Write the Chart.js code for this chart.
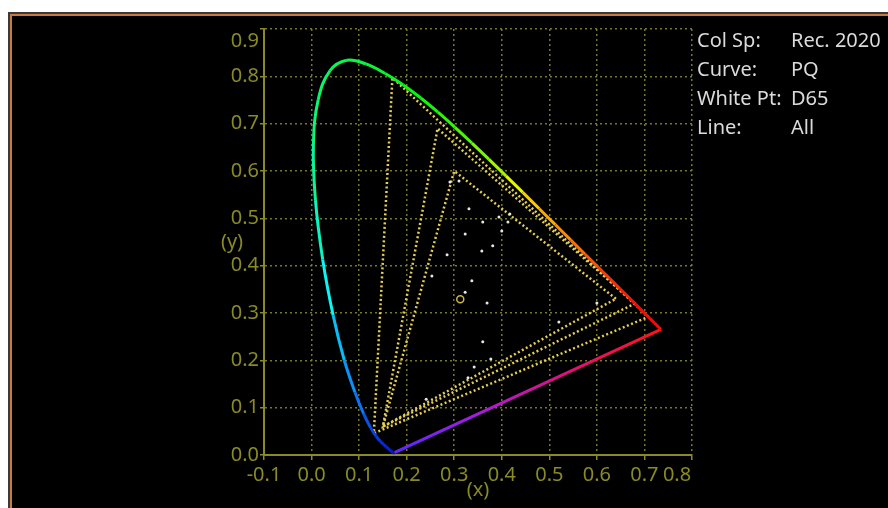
<!DOCTYPE html>
<html>
<head>
<meta charset="utf-8">
<script src="https://cdn.jsdelivr.net/npm/chart.js@4.4.0/dist/chart.umd.min.js"></script>
<style>
  html, body { margin: 0; padding: 0; background: #fff; width: 888px; height: 508px; overflow: hidden; }
  #frame { position: absolute; left: 8px; top: 12px; width: 900px; height: 520px; background: #000;
           border: 2px solid #3a3a3a; box-shadow: inset 0 0 0 2px #c97a3e; }
  #chart { position: absolute; left: 0; top: 0; }
</style>
</head>
<body>
<div id="frame"></div>
<canvas id="chart" width="888" height="508"></canvas>
<script>
// CIE 1931 spectral locus (chromaticity x, y per wavelength)
const wavelengths = [380, 385, 390, 395, 400, 405, 410, 415, 420, 425, 430, 435, 440, 445, 450, 455,
    460, 465, 470, 475, 480, 485, 490, 495, 500, 505, 510, 515, 520, 525, 530, 535, 540, 545, 550,
    555, 560, 565, 570, 575, 580, 585, 590, 595, 600, 605, 610, 615, 620, 625, 630, 635, 640, 645,
    650, 655, 660, 665, 670, 675, 680, 690, 700];
const locusX = [0.1741, 0.1740, 0.1738, 0.1736, 0.1733, 0.1730, 0.1726, 0.1721, 0.1714, 0.1703,
    0.1689, 0.1669, 0.1644, 0.1611, 0.1566, 0.1510, 0.1440, 0.1355, 0.1241, 0.1096, 0.0913, 0.0687,
    0.0454, 0.0235, 0.0082, 0.0039, 0.0139, 0.0389, 0.0743, 0.1142, 0.1547, 0.1929, 0.2296, 0.2658,
    0.3016, 0.3373, 0.3731, 0.4087, 0.4441, 0.4788, 0.5125, 0.5448, 0.5752, 0.6029, 0.6270, 0.6482,
    0.6658, 0.6801, 0.6915, 0.7006, 0.7079, 0.7140, 0.7190, 0.7230, 0.7260, 0.7283, 0.7300, 0.7311,
    0.7320, 0.7327, 0.7334, 0.7344, 0.7347];
const locusY = [0.0050, 0.0050, 0.0049, 0.0049, 0.0048, 0.0048, 0.0048, 0.0048, 0.0051, 0.0058,
    0.0069, 0.0086, 0.0109, 0.0138, 0.0177, 0.0227, 0.0297, 0.0399, 0.0578, 0.0868, 0.1327, 0.2007,
    0.2950, 0.4127, 0.5384, 0.6548, 0.7502, 0.8120, 0.8338, 0.8262, 0.8059, 0.7816, 0.7543, 0.7243,
    0.6923, 0.6589, 0.6245, 0.5896, 0.5547, 0.5202, 0.4866, 0.4544, 0.4242, 0.3965, 0.3725, 0.3514,
    0.3340, 0.3197, 0.3083, 0.2993, 0.2920, 0.2859, 0.2809, 0.2770, 0.2740, 0.2717, 0.2700, 0.2689,
    0.2680, 0.2673, 0.2666, 0.2656, 0.2653];

// gamut triangles (R, G, B, R)
const rec2020X = [0.708, 0.170, 0.131, 0.708];
const rec2020Y = [0.292, 0.797, 0.046, 0.292];
const p3X = [0.680, 0.265, 0.150, 0.680];
const p3Y = [0.320, 0.690, 0.060, 0.320];
const rec709X = [0.640, 0.300, 0.150, 0.640];
const rec709Y = [0.330, 0.600, 0.060, 0.330];
const whitePoint = [0.3127, 0.3290];

// measured samples
const sampleX = [0.291, 0.310, 0.331, 0.360, 0.394, 0.413, 0.417, 0.400, 0.323, 0.381, 0.358, 0.285,
    0.253, 0.337, 0.323, 0.369, 0.360, 0.377, 0.342, 0.329, 0.241, 0.520, 0.600];
const sampleY = [0.577, 0.579, 0.520, 0.492, 0.503, 0.492, 0.509, 0.473, 0.467, 0.442, 0.431, 0.423,
    0.378, 0.368, 0.344, 0.321, 0.239, 0.203, 0.186, 0.163, 0.118, 0.281, 0.321];

const xTickValues = [-0.1, 0.0, 0.1, 0.2, 0.3, 0.4, 0.5, 0.6, 0.7, 0.8];
const xTickLabels = ['-0.1', '0.0', '0.1', '0.2', '0.3', '0.4', '0.5', '0.6', '0.7', '0.8'];
const yTickValues = [0.0, 0.1, 0.2, 0.3, 0.4, 0.5, 0.6, 0.7, 0.8, 0.9];
const yTickLabels = ['0.0', '0.1', '0.2', '0.3', '0.4', '0.5', '0.6', '0.7', '0.8', '0.9'];

const infoLabels = ['Col Sp:', 'Curve:', 'White Pt:', 'Line:'];
const infoValues = ['Rec. 2020', 'PQ', 'D65', 'All'];

const OLIVE = '#8a8a26';
const GRID = 'rgba(125,125,45,0.95)';
const DOTS = '#e4cf52';
const FONT = { family: "'Noto Sans', sans-serif", size: 20 };

// hue stops along the locus
const hueStops = [[380, 235], [455, 232], [470, 222], [480, 210], [487, 196], [493, 178],
    [500, 160], [510, 145], [530, 130], [550, 108], [562, 82], [572, 50], [582, 34], [596, 14], [615, 0], [700, 0]];
function hueFor(nm) {
    for (let i = 1; i < hueStops.length; i++) {
        const [w1, h1] = hueStops[i];
        const [w0, h0] = hueStops[i - 1];
        if (nm <= w1) return h0 + (h1 - h0) * (nm - w0) / (w1 - w0);
    }
    return 0;
}
function locusColor(ctx) {
    const nm = (wavelengths[ctx.p0DataIndex] + wavelengths[ctx.p1DataIndex]) / 2;
    const h = hueFor(nm);
    const l = h > 215 ? 46 : 50;
    return `hsl(${h}, 92%, ${l}%)`;
}

function points(xs, ys) {
    return xs.map((x, i) => ({ x: x, y: ys[i] }));
}

const last = locusX.length - 1;

function purpleGradient(context) {
    const chart = context.chart;
    if (!chart.chartArea) return '#c020c0';
    const xs = chart.scales.x, ys = chart.scales.y;
    const g = chart.ctx.createLinearGradient(
        xs.getPixelForValue(locusX[last]), ys.getPixelForValue(locusY[last]),
        xs.getPixelForValue(locusX[0]), ys.getPixelForValue(locusY[0]));
    g.addColorStop(0, '#ff1418');
    g.addColorStop(0.35, '#e0107a');
    g.addColorStop(0.7, '#a51ce0');
    g.addColorStop(1, '#5a28ff');
    return g;
}

function triangle(xs, ys) {
    return {
        data: points(xs, ys),
        showLine: true,
        borderColor: DOTS,
        borderWidth: 2.5,
        borderDash: [2, 2.5],
        pointRadius: 0,
        tension: 0
    };
}

// text: axis title for y and the info block at top right
const textPlugin = {
    id: 'texts',
    afterDraw(chart) {
        const ctx = chart.ctx;
        const ys = chart.scales.y;
        ctx.save();
        ctx.font = `${FONT.size}px ${FONT.family}`;
        ctx.fillStyle = OLIVE;
        ctx.textAlign = 'center';
        ctx.textBaseline = 'middle';
        ctx.fillText('(y)', chart.chartArea.left - 32, ys.getPixelForValue(0.45));

        ctx.fillStyle = '#dadada';
        ctx.textAlign = 'left';
        ctx.textBaseline = 'alphabetic';
        infoLabels.forEach((lab, i) => {
            const y = 47 + i * 28.9;
            ctx.fillText(lab, 697, y);
            ctx.fillText(infoValues[i], 791, y);
        });
        ctx.restore();
    }
};

new Chart(document.getElementById('chart'), {
    type: 'scatter',
    data: {
        datasets: [
            {
                data: points(locusX, locusY),
                showLine: true,
                borderWidth: 3,
                pointRadius: 0,
                tension: 0.4,
                segment: { borderColor: locusColor }
            },
            {
                data: [{ x: locusX[last], y: locusY[last] }, { x: locusX[0], y: locusY[0] }],
                showLine: true,
                borderWidth: 3,
                borderColor: purpleGradient,
                pointRadius: 0
            },
            {
                data: [{ x: whitePoint[0], y: whitePoint[1] }],
                pointRadius: 3.5,
                borderColor: '#cdb844',
                borderWidth: 1.5,
                backgroundColor: 'rgba(0,0,0,0)'
            },
            {
                data: points(sampleX, sampleY),
                pointRadius: 1.5,
                borderWidth: 0,
                backgroundColor: '#e6e6e6'
            },
            triangle(rec709X, rec709Y),
            triangle(p3X, p3Y),
            triangle(rec2020X, rec2020Y)
        ]
    },
    options: {
        responsive: false,
        animation: false,
        events: [],
        layout: { padding: { left: 0, top: 29, right: 196, bottom: 0 } },
        plugins: { legend: { display: false }, tooltip: { enabled: false } },
        scales: {
            x: {
                type: 'linear',
                min: -0.1,
                max: 0.8,
                afterBuildTicks: s => { s.ticks = xTickValues.map(v => ({ value: v })); },
                afterFit: s => { s.height = 53; },
                ticks: {
                    color: OLIVE,
                    font: FONT,
                    padding: 3,
                    maxRotation: 0,
                    autoSkip: false,
                    // last label is pushed inside the axis end
                    callback: (v, i) => i === xTickLabels.length - 1 ? xTickLabels[i] + '\u2002\u2002\u2002' : xTickLabels[i]
                },
                grid: { color: GRID, lineWidth: 1.5, tickLength: 5, tickColor: OLIVE, tickWidth: 1.5, tickBorderDash: [] },
                border: { color: OLIVE, width: 2, dash: [2, 3] },
                title: { display: true, text: '(x)', color: OLIVE, font: FONT, padding: { top: 0, bottom: 6 } }
            },
            y: {
                type: 'linear',
                min: 0,
                max: 0.9,
                afterBuildTicks: s => { s.ticks = yTickValues.map(v => ({ value: v })); },
                afterFit: s => { s.width = 264; },
                ticks: {
                    color: OLIVE,
                    font: FONT,
                    padding: 1,
                    autoSkip: false,
                    // top label sits below its tick
                    callback: (v, i) => i === yTickLabels.length - 1 ? ['', yTickLabels[i]] : yTickLabels[i]
                },
                grid: { color: GRID, lineWidth: 1.5, tickLength: 4, tickColor: OLIVE, tickWidth: 1.5, tickBorderDash: [] },
                border: { color: OLIVE, width: 2, dash: [2, 3] }
            }
        }
    },
    plugins: [textPlugin]
});
</script>
</body>
</html>
